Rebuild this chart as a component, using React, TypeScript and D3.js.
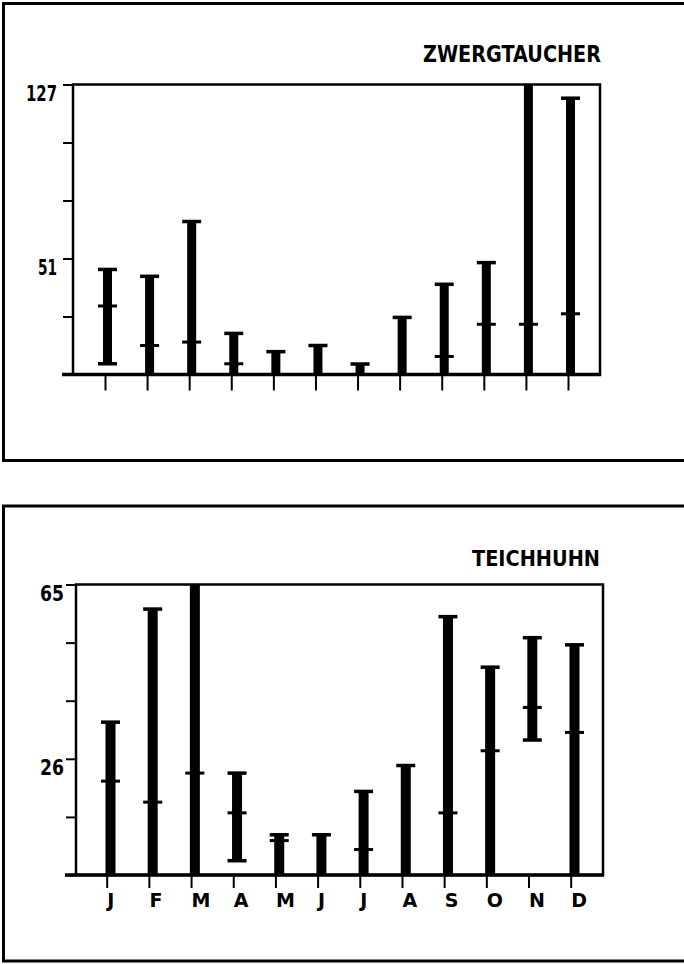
import React, { useEffect, useRef } from 'react'
import * as d3 from 'd3'

const months = ['J', 'F', 'M', 'A', 'M', 'J', 'J', 'A', 'S', 'O', 'N', 'D']

// Zwergtaucher: range per month (min..max) and mean marker
const zwergMax = [46, 43, 67, 18, 10, 12.7, 4.6, 25, 39.5, 49, 127, 121]
const zwergMin = [4.7, 0, 0, 0, 0, 0, 0, 0, 0, 0, 0, 0]
const zwergMean = [30, 12.7, 14.2, 4.7, null, null, null, null, 7.9, 22, 22, 26.6]
const zwergTicks = [0, 25.4, 50.8, 76.2, 101.6, 127]
const zwergTickLabels = ['', '', '51', '', '', '127']

// Teichhuhn
const teichMax = [34.2, 59.5, 65, 22.8, 9, 9, 18.7, 24.5, 57.8, 46.5, 53.1, 51.5]
const teichMin = [0, 0, 0, 3.2, 0, 0, 0, 0, 0, 0, 30.2, 0]
const teichMean = [21, 16.3, 22.8, 13.9, 7.7, null, 5.7, null, 13.9, 27.8, 37.5, 31.9]
const teichTicks = [0, 13, 26, 39, 52, 65]
const teichTickLabels = ['', '', '26', '', '', '65']

const W = 684
const H = 964
const TITLE_FONT = "'DejaVu Sans', sans-serif"
const MONTH_FONT = "'DejaVu Sans', sans-serif"

const panels = [
    {
        title: 'ZWERGTAUCHER', titleX: 601, titleY: 62, titleSize: 23, titleLen: 178,
        box: [3.5, 3.5, 740, 457],
        left: 73, right: 600, top: 84.5, bottom: 374.5, axisX0: 62,
        tickX: [105, 568], barOff: 2.5, bw: 9, xTickLen: 16, showMonths: false,
        labelRight: 57, yMax: 127,
        max: zwergMax, min: zwergMin, mean: zwergMean, ticks: zwergTicks, tickLabels: zwergTickLabels
    },
    {
        title: 'TEICHHUHN', titleX: 600, titleY: 565.5, titleSize: 22, titleLen: 128,
        box: [3.5, 506, 740, 455],
        left: 76, right: 603, top: 584.5, bottom: 875, axisX0: 65,
        tickX: [106.7, 570.7], barOff: 3.8, bw: 10, xTickLen: 13, showMonths: true,
        labelRight: 64, yMax: 65,
        max: teichMax, min: teichMin, mean: teichMean, ticks: teichTicks, tickLabels: teichTickLabels
    }
]

// narrow "1" like the original typeface
const labelWidth = s => s.split('').reduce((w, c) => w + (c === '1' ? 7 : 12), 0)

function drawPanel(svg, p) {
    const g = svg.append('g')

    // outer frame (runs off the right edge of the page)
    g.append('rect')
        .attr('x', p.box[0]).attr('y', p.box[1])
        .attr('width', p.box[2]).attr('height', p.box[3])
        .attr('fill', 'none').attr('stroke', '#000').attr('stroke-width', 3)

    g.append('text')
        .attr('x', p.titleX).attr('y', p.titleY)
        .attr('text-anchor', 'end')
        .attr('font-family', TITLE_FONT).attr('font-weight', 'bold')
        .attr('font-size', p.titleSize)
        .attr('textLength', p.titleLen).attr('lengthAdjust', 'spacingAndGlyphs')
        .text(p.title)

    const y = d3.scaleLinear().domain([0, p.yMax]).range([p.bottom, p.top])
    const x = d3.scalePoint().domain(d3.range(12)).range(p.tickX)

    // plot frame
    g.append('rect')
        .attr('x', p.left).attr('y', p.top)
        .attr('width', p.right - p.left).attr('height', p.bottom - p.top)
        .attr('fill', 'none').attr('stroke', '#000').attr('stroke-width', 2.5)

    // y axis
    const yAxis = g.append('g')
        .attr('transform', `translate(${p.left},0)`)
        .call(d3.axisLeft(y).tickValues(p.ticks).tickSize(10).tickFormat((d, i) => p.tickLabels[i]))
    yAxis.select('.domain').remove()
    yAxis.selectAll('line').attr('stroke', '#000').attr('stroke-width', 2)
    yAxis.selectAll('text')
        .attr('x', p.labelRight - p.left).attr('dy', '0.74em')
        .attr('font-family', TITLE_FONT).attr('font-weight', 'bold').attr('font-size', 21)
        .attr('fill', '#000')
        .each(function (d, i) {
            const s = p.tickLabels[i]
            if (s) d3.select(this).attr('textLength', labelWidth(s)).attr('lengthAdjust', 'spacingAndGlyphs')
        })

    // x axis
    const xAxis = g.append('g')
        .attr('transform', `translate(0,${p.bottom})`)
        .call(d3.axisBottom(x).tickSize(p.xTickLen).tickFormat(i => p.showMonths ? months[i] : ''))
    xAxis.select('.domain').remove()
    xAxis.selectAll('line').attr('stroke', '#000').attr('stroke-width', 2)
    xAxis.selectAll('text')
        .attr('y', 18).attr('dy', '0.73em')
        .attr('text-anchor', 'start')
        .attr('font-family', MONTH_FONT).attr('font-weight', 'bold').attr('font-size', 19)
        .attr('fill', '#000')

    // base line, extended to the left
    g.append('line')
        .attr('x1', p.axisX0).attr('x2', p.right + 1)
        .attr('y1', p.bottom).attr('y2', p.bottom)
        .attr('stroke', '#000').attr('stroke-width', 3.5)

    const cx = i => x(i) + p.barOff
    const capW = 19

    // range bars
    g.selectAll('rect.bar').data(d3.range(12)).join('rect')
        .attr('class', 'bar')
        .attr('x', i => cx(i) - p.bw / 2)
        .attr('y', i => y(p.max[i]))
        .attr('width', p.bw)
        .attr('height', i => y(p.min[i]) - y(p.max[i]))
        .attr('fill', '#000')

    // caps at max and min
    const caps = []
    d3.range(12).forEach(i => {
        if (p.max[i] < p.yMax) caps.push([i, p.max[i]])
        if (p.min[i] > 0) caps.push([i, p.min[i]])
    })
    g.selectAll('rect.cap').data(caps).join('rect')
        .attr('class', 'cap')
        .attr('x', d => cx(d[0]) - capW / 2)
        .attr('y', d => y(d[1]) - 1.75)
        .attr('width', capW).attr('height', 3.5)
        .attr('fill', '#000')

    // mean markers
    const means = d3.range(12).filter(i => p.mean[i] != null)
    g.selectAll('rect.mean').data(means).join('rect')
        .attr('class', 'mean')
        .attr('x', i => cx(i) - capW / 2)
        .attr('y', i => y(p.mean[i]) - 1.5)
        .attr('width', capW).attr('height', 3)
        .attr('fill', '#000')
}

export default function App() {
    const ref = useRef(null)

    useEffect(() => {
        const svg = d3.select(ref.current)
        svg.selectAll('*').remove()
        svg.append('rect').attr('width', W).attr('height', H).attr('fill', '#fff')
        panels.forEach(p => drawPanel(svg, p))
    }, [])

    return (
        <svg ref={ref} width={W} height={H}
            style={{ position: 'absolute', left: 0, top: 0, display: 'block' }} />
    )
}
